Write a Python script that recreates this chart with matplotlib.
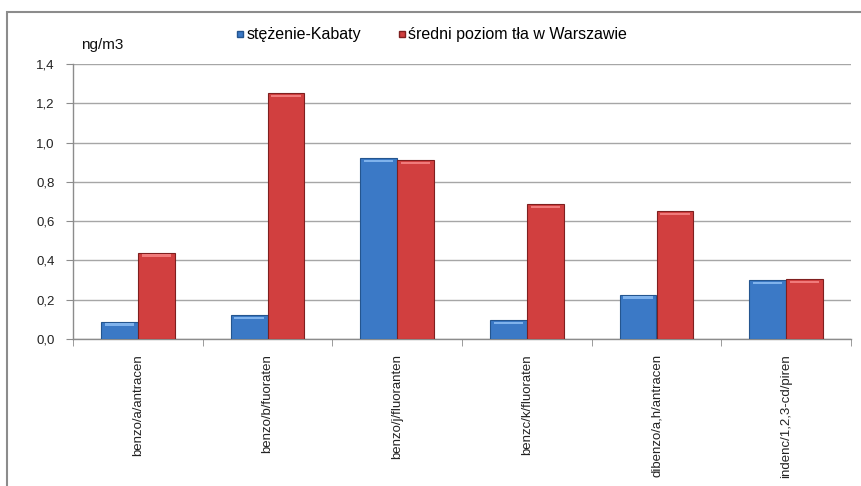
import numpy as np
from matplotlib import pyplot as plt
from matplotlib.patches import Rectangle
from matplotlib.lines import Line2D

categories = ["benzo/a/antracen", "benzo/b/fuoraten", "benzo/j/fluoranten",
              "benzc/k/fluoraten", "dibenzo/a,h/antracen", "indenc/1,2,3-cd/piren"]
kabaty = [0.087, 0.12, 0.92, 0.095, 0.225, 0.30]
warszawa = [0.44, 1.25, 0.91, 0.685, 0.65, 0.305]
series_names = ["stężenie-Kabaty", "średni poziom tła w Warszawie"]
yticks = [0.0, 0.2, 0.4, 0.6, 0.8, 1.0, 1.2, 1.4]

plt.rcParams['font.family'] = ['Liberation Sans', 'DejaVu Sans']

fig = plt.figure(figsize=(8.61, 4.86), dpi=100)
fig.patch.set_facecolor("white")

# outer chart frame (only left and top visible in the crop)
fig.patches.append(Rectangle((7 / 861, -0.1), 1.2, (1 - 12 / 486) + 0.1,
                             transform=fig.transFigure, fill=False,
                             edgecolor="#8c8c8c", linewidth=1.5))

ax = fig.add_axes([73 / 861, 1 - 339 / 486, (851 - 73) / 861, (339 - 64) / 486])
ax.set_facecolor("white")

x = np.arange(len(categories))
w = 0.285
blue = "#3b79c6"
red = "#d13f3f"
ax.bar(x - w / 2, kabaty, w, color=blue, edgecolor="#24558f", linewidth=0.8, zorder=3)
ax.bar(x + w / 2, warszawa, w, color=red, edgecolor="#7f1f1f", linewidth=0.8, zorder=3)
# light bevel on top of bars
for xs, vals, c in [(x - w / 2, kabaty, "#7fb2ec"), (x + w / 2, warszawa, "#f07a7a")]:
    ax.bar(xs, [0.012] * len(vals), w * 0.8, bottom=np.array(vals) - 0.02,
           color=c, linewidth=0, zorder=4)

ax.set_xlim(-0.5, len(categories) - 0.5)
ax.set_ylim(0, 1.4)
ax.set_yticks(yticks)
ax.set_yticklabels([f"{v:.1f}".replace(".", ",") for v in yticks], fontsize=9.5, color="#222222")
ax.yaxis.grid(True, color="#a6a6a6", linewidth=1.0, zorder=0)
ax.set_axisbelow(True)

ax.set_xticks(x)
ax.set_xticklabels(categories, rotation=90, fontsize=9.5, color="#222222", va="top")
ax.tick_params(axis="x", length=0, pad=11)
ax.set_xticks(np.arange(-0.5, len(categories)), minor=True)
ax.tick_params(axis="x", which="minor", length=5, color="#8c8c8c", direction="out")
ax.tick_params(axis="y", length=5, color="#8c8c8c", direction="out", pad=8)

for s in ["top", "right"]:
    ax.spines[s].set_visible(False)
for s in ["left", "bottom"]:
    ax.spines[s].set_color("#8c8c8c")
    ax.spines[s].set_linewidth(1.0)

fig.text(81 / 861, 1 - 45 / 486, "ng/m3", fontsize=11, va="center", ha="left", color="#111111")

handles = [Line2D([], [], marker="s", linestyle="none", markersize=5,
                  markerfacecolor=blue, markeredgecolor="#24558f"),
           Line2D([], [], marker="s", linestyle="none", markersize=5,
                  markerfacecolor=red, markeredgecolor="#7f1f1f")]
fig.legend(handles, series_names, loc="center left", bbox_to_anchor=(236 / 861, 1 - 35 / 486),
           ncol=2, frameon=False, fontsize=11.5, handlelength=0.5, handletextpad=0.15,
           columnspacing=2.3, borderpad=0, borderaxespad=0)

plt.savefig("out.png", dpi=100)
